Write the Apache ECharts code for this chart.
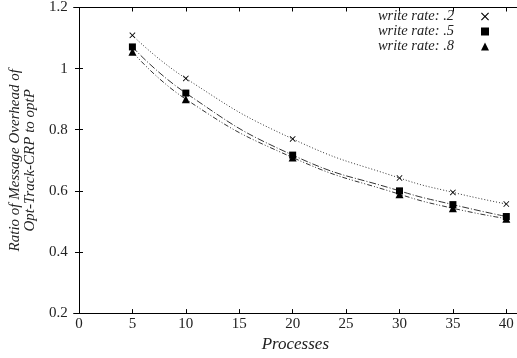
<!DOCTYPE html>
<html>
  <head>
    <meta charset="utf-8">
    <script src="https://cdn.jsdelivr.net/npm/echarts@6/dist/echarts.min.js"></script>
    <style>
      body { margin: 0; padding: 0; background: #fff; }
      #chart { width: 517px; height: 358px; }
    </style>
  </head>
  <body>
    <div id="chart"></div>
    <script>
      const processes = [5, 10, 20, 30, 35, 40];
      const rate2 = [1.109, 0.968, 0.770, 0.642, 0.595, 0.557];
      const rate5 = [1.071, 0.920, 0.717, 0.600, 0.555, 0.516];
      const rate8 = [1.055, 0.900, 0.709, 0.589, 0.543, 0.509];
      const xTicks = [0, 5, 10, 15, 20, 25, 30, 35, 40];
      const names = ['write rate: .2', 'write rate: .5', 'write rate: .8'];

      const font = 'Liberation Serif, Times New Roman, serif';
      const ink = '#222';
      const cross = 'path://M0,1L1,0L5,4L9,0L10,1L6,5L10,9L9,10L5,6L1,10L0,9L4,5Z';

      const pairs = ys => processes.map((x, i) => [x, ys[i]]);

      const chart = echarts.init(document.getElementById('chart'));

      const xBase = {
        type: 'value', min: -0.5, max: 41,
        splitLine: { show: false },
        axisLine: { lineStyle: { color: '#000', width: 1 } },
        axisTick: { inside: true, length: 4, customValues: xTicks, lineStyle: { color: '#000' } }
      };
      const yBase = {
        type: 'value', min: 0.2, max: 1.2, interval: 0.2,
        splitLine: { show: false },
        axisLine: { show: true, lineStyle: { color: '#000', width: 1 } },
        axisTick: { show: true, inside: true, length: 4, lineStyle: { color: '#000' } }
      };

      const mkSeries = (name, ys, symbol, size, dash) => ({
        name, type: 'line', data: pairs(ys), smooth: true,
        symbol, symbolSize: size,
        itemStyle: { color: '#000' },
        lineStyle: { color: '#333', width: 1, type: dash },
        z: 3
      });

      chart.setOption({
        animation: false,
        grid: { left: 67, top: 5, width: 453, height: 312 },
        legend: {
          orient: 'vertical', align: 'right', right: 28, top: 9, padding: 0,
          itemGap: 0, itemWidth: 8, itemHeight: 8,
          textStyle: { fontFamily: font, fontStyle: 'italic', fontSize: 14.5, color: ink, padding: [0, 22, 0, 0], lineHeight: 14.5 },
          data: [
            { name: names[0], icon: cross },
            { name: names[1], icon: 'rect' },
            { name: names[2], icon: 'triangle' }
          ]
        },
        xAxis: [
          Object.assign({}, xBase, {
            position: 'bottom',
            name: 'Processes', nameLocation: 'middle', nameGap: 17,
            nameTextStyle: { fontFamily: font, fontStyle: 'italic', fontSize: 17, color: ink },
            axisLabel: { customValues: xTicks, fontFamily: font, fontSize: 15, color: ink, margin: 3 }
          }),
          Object.assign({}, xBase, { position: 'top', axisLabel: { show: false } })
        ],
        yAxis: [
          Object.assign({}, yBase, {
            position: 'left',
            name: 'Ratio of Message Overhead of\nOpt-Track-CRP to optP',
            nameLocation: 'middle', nameRotate: 90, nameGap: 22,
            nameTextStyle: { fontFamily: font, fontStyle: 'italic', fontSize: 15, color: ink, lineHeight: 15 },
            axisLabel: { fontFamily: font, fontSize: 15, color: ink, margin: 6 }
          }),
          Object.assign({}, yBase, { position: 'right', axisLabel: { show: false } })
        ],
        series: [
          mkSeries(names[0], rate2, cross, 6, [1, 2]),
          mkSeries(names[1], rate5, 'rect', 7, [7, 2, 1, 2]),
          mkSeries(names[2], rate8, 'triangle', 8, [5, 2, 1, 2, 1, 2])
        ]
      });
    </script>
  </body>
</html>
